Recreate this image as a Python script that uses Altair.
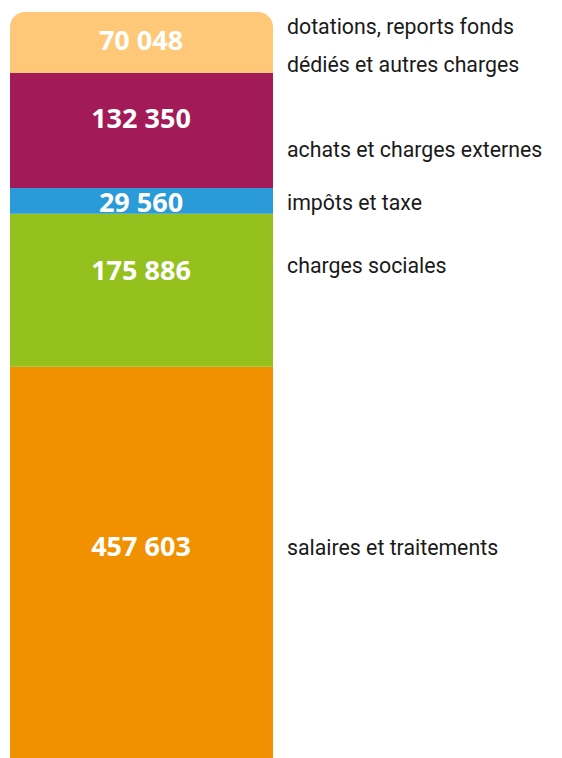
import altair as alt
import pandas as pd

categories = ["salaires et traitements", "charges sociales", "impôts et taxe",
              "achats et charges externes", "dotations, reports fonds\ndédiés et autres charges"]
values = [457603, 175886, 29560, 132350, 70048]
value_labels = ["457 603", "175 886", "29 560", "132 350", "70 048"]
colors = ["#F29100", "#95C11F", "#2A9AD8", "#A31A58", "#FFC878"]

# small per-label vertical nudges (pixels) to follow the original's text placement
value_nudge = [-18, -18, 3, -11, 0]
cat_nudge = [-17, -23, 3, 20, -14]

start, end, mid = [], [], []
acc = 0
for v in values:
    start.append(acc)
    acc += v
    end.append(acc)
    mid.append(acc - v / 2)
total = acc

df = pd.DataFrame({
    "cat": categories, "value": values, "vlabel": value_labels,
    "start": start, "end": end, "mid": mid, "color": colors,
    "order": list(range(len(values))),
})

yscale = alt.Scale(domain=[0, total], range=[757, 4])

base = alt.Chart(df)

bars = base.transform_filter(alt.datum.order < 4).mark_rect().encode(
    x=alt.value(2), x2=alt.value(265),
    y=alt.Y("start:Q", scale=yscale, axis=None), y2="end:Q",
    color=alt.Color("color:N", scale=None),
)
top = base.transform_filter(alt.datum.order == 4).mark_bar(
    cornerRadiusTopLeft=15, cornerRadiusTopRight=15
).encode(
    x=alt.value(2), x2=alt.value(265),
    y=alt.Y("start:Q", scale=yscale, axis=None), y2="end:Q",
    color=alt.Color("color:N", scale=None),
)

layers = [bars, top]
for i in range(len(values)):
    row = base.transform_filter(alt.datum.order == i)
    layers.append(row.mark_text(
        font="Open Sans", fontWeight="bold", fontSize=27, color="white",
        align="center", baseline="middle", dy=value_nudge[i],
    ).encode(
        x=alt.value(133),
        y=alt.Y("mid:Q", scale=yscale, axis=None),
        text="vlabel:N",
    ))
    layers.append(row.mark_text(
        font="Roboto", fontSize=21.3, color="#1a1a1a",
        align="left", baseline="middle", lineBreak="\n", lineHeight=38,
        dy=cat_nudge[i],
    ).encode(
        x=alt.value(279),
        y=alt.Y("mid:Q", scale=yscale, axis=None),
        text="cat:N",
    ))

chart = alt.layer(*layers).properties(
    width=546, height=750, padding=0, autosize="none",
).configure_view(stroke=None)

chart.save("out.html", embed_options={"renderer": "svg", "actions": False})
